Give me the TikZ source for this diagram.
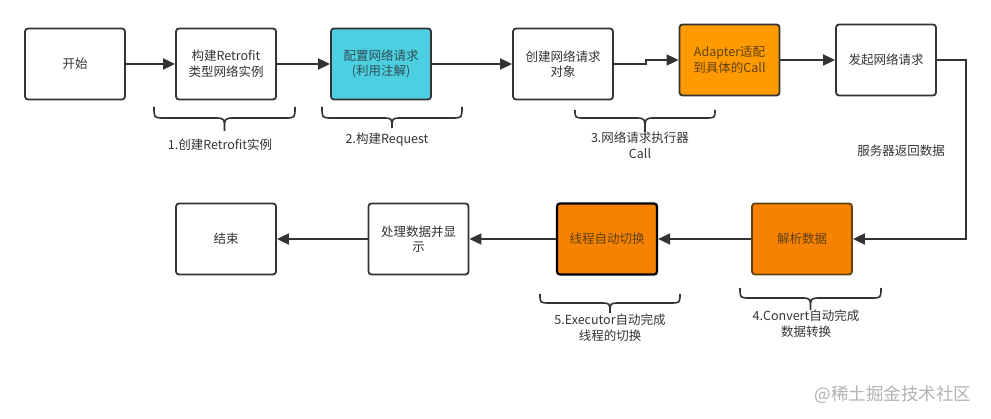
\documentclass[tikz,border=0pt]{standalone}
\usepackage{fontspec}
\setmainfont{Noto Sans CJK SC}
\usetikzlibrary{arrows.meta}
\definecolor{ln}{HTML}{333333}
\definecolor{cyanf}{HTML}{4CCFE0}
\definecolor{orgA}{HTML}{FF9A00}
\definecolor{orgB}{HTML}{F78100}
\definecolor{brn}{HTML}{5E4210}
\definecolor{cyt}{HTML}{2E4E56}
\newcommand\mybrace[5]{% x1 x2 ytop ymid ytip
  \pgfmathsetmacro\xc{(#1+#2)/2}
  \draw[bracestyle] (#1,#3) .. controls (#1,#4) .. (#1+10,#4) -- (\xc-10,#4) .. controls (\xc,#4) .. (\xc,#5)
    .. controls (\xc,#4) .. (\xc+10,#4) -- (#2-10,#4) .. controls (#2,#4) .. (#2,#3);}
\begin{document}
\begin{tikzpicture}[x=1pt,y=-1pt,
  box/.style={draw=ln,line width=1.8pt,rounded corners=3pt,minimum width=100pt,minimum height=71pt,
    align=center,font=\fontsize{12.5}{15.5}\selectfont,text=ln,inner sep=2pt,fill=white},
  arr/.style={draw=ln,line width=1.8pt,-{Triangle[length=12pt,width=11pt]}},
  bracestyle/.style={draw=ln,line width=1.6pt},
  lbl/.style={align=center,font=\fontsize{12.5}{16}\selectfont,text=ln}]
\useasboundingbox (0,0) rectangle (991,419);
\node[box] (start) at (75,64) {开始};
\node[box] (build) at (226,64) {构建Retrofit\\类型网络实例};
\node[box,fill=cyanf,text=cyt] (conf) at (381,64) {配置网络请求\\(利用注解)};
\node[box] (create) at (563,64) {创建网络请求\\对象};
\node[box,fill=orgA,text=brn] (adapt) at (729.5,60) {Adapter适配\\到具体的Call};
\node[box] (send) at (886,60) {发起网络请求};
\node[box,fill=orgB,text=brn,draw=brn] (parse) at (802,239) {解析数据};
\node[box,fill=orgB,text=brn,draw=black,line width=2.2pt] (thread) at (607,239) {线程自动切换};
\node[box] (proc) at (418.5,239) {处理数据并显\\示};
\node[box] (end) at (226,239) {结束};

\draw[arr] (start) -- (build);
\draw[arr] (build) -- (conf);
\draw[arr] (conf) -- (create);
\draw[arr] (create.east) -- (646,64) -- (646,60) -- (adapt.west);
\draw[arr] (adapt) -- (send);
\coordinate (c1) at (966,60);
\coordinate (c2) at (966,239);
\draw[arr] (send.east) -- (c1) -- (c2) -- (parse.east);
\draw[arr] (parse) -- (thread);
\draw[arr] (thread) -- (proc);
\draw[arr] (proc) -- (end);

\node[lbl] (srv) at (901,151) {服务器返回数据};

\mybrace{154}{295}{107}{118}{131}
\mybrace{322}{462}{107}{118}{128}
\mybrace{575}{715}{110}{118}{132}
\mybrace{740}{881}{288}{298}{310}
\mybrace{540}{680}{294}{303}{313}

\node[lbl] (l1) at (220,145) {1.创建Retrofit实例};
\node[lbl] (l2) at (387,140) {2.构建Request};
\node[lbl] (l3) at (640,145) {3.网络请求执行器\\Call};
\node[lbl] (l4) at (806,324) {4.Convert自动完成\\数据转换};
\node[lbl] (l5) at (610,328) {5.Executor自动完成\\线程的切换};
\node[lbl,text=black!30,font=\fontsize{17.5}{20}\selectfont] (wm) at (893,395) {@稀土掘金技术社区};
\end{tikzpicture}
\end{document}
